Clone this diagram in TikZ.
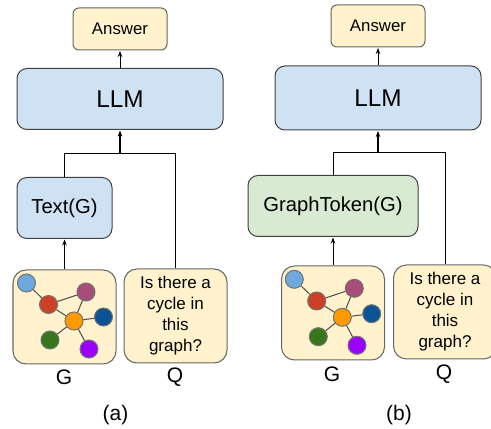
\documentclass[tikz,border=0pt]{standalone}
\usepackage{fontspec}
\setmainfont{Liberation Sans}
\usetikzlibrary{arrows.meta}
\definecolor{boxblue}{HTML}{CFE2F3}
\definecolor{boxyellow}{HTML}{FFF2CC}
\definecolor{boxgreen}{HTML}{D9EAD3}
\definecolor{gblue}{HTML}{6FA8DC}
\definecolor{gred}{HTML}{CC4125}
\definecolor{gmauve}{HTML}{A64D79}
\definecolor{gorange}{HTML}{FF9900}
\definecolor{gnavy}{HTML}{0B5394}
\definecolor{ggreen}{HTML}{38761D}
\definecolor{gviolet}{HTML}{9900FF}
\begin{document}
\begin{tikzpicture}
\tikzset{anbox/.style={shape=rectangle, rounded corners=0.6em, draw=black!60, line width=0.1em, fill=boxyellow, minimum width=9.4em, minimum height=4.2em, font=\fontsize{16.8pt}{20pt}\selectfont}}
\tikzset{llmbox/.style={shape=rectangle, rounded corners=1em, draw=black!75, line width=0.1em, fill=boxblue, minimum width=20.6em, font=\fontsize{24.3pt}{28pt}\selectfont}}
\tikzset{encbox/.style={shape=rectangle, rounded corners=1em, draw=black!75, line width=0.1em, minimum height=6.1em, font=\fontsize{20.2pt}{24pt}\selectfont}}
\tikzset{inbox/.style={shape=rectangle, rounded corners=1.3em, draw=black!60, line width=0.1em, fill=boxyellow, minimum width=10.3em, minimum height=9.4em, inner sep=0pt, align=center, font=\fontsize{17pt}{21pt}\selectfont}}
\tikzset{ltlabel/.style={inner sep=0pt, font=\fontsize{21pt}{25pt}\selectfont}}
\tikzset{gvert/.style={shape=circle, minimum size=1.8em, inner sep=0pt, draw=black!55, line width=0.1em}}
\tikzset{gedge/.style={draw=black!70, line width=0.1em}}
\tikzset{flow/.style={-{Stealth[length=0.6em, width=0.45em]}, line width=0.1em, shorten >=0.05em}}
\tikzset{tee/.style={line width=0.1em}}
\useasboundingbox (0em, 0em) rectangle (49.1em, 42.9em);
% left picture
\node (ans1) [anbox]                        at (12.0em, 40.0em) {Answer};
\node (llm1) [llmbox, minimum height=6.1em] at (12.0em, 33.0em) {LLM};
\node (txt1) [encbox, fill=boxblue, minimum width=9.5em] at (6.45em, 22.1em) {Text(G)};
\node (gbox1) [inbox]                       at (6.45em, 11.2em) {};
\node (qbox1) [inbox]                       at (17.55em, 11.3em) {Is there a\\cycle in\\this\\graph?};
\node (glab1) [ltlabel]                     at (6.4em, 5.2em) {G};
\node (qlab1) [ltlabel]                     at (17.5em, 5.2em) {Q};
\node (cap1) [ltlabel]                      at (11.55em, 1.35em) {(a)};
\coordinate (tee1) at (12.0em, 27.5em);
\draw[flow] (llm1) to (ans1);
\draw[flow, line width=0.16em] (tee1) to (llm1);
\draw[tee] (txt1) |- (tee1);
\draw[tee] (qbox1) |- (tee1);
\draw[flow] (gbox1) to (txt1);
% left graph
\node (a1) [gvert, fill=gblue]   at (2.65em, 14.6em) {};
\node (a2) [gvert, fill=gred]    at (4.85em, 12.45em) {};
\node (a3) [gvert, fill=gmauve]  at (8.6em, 13.7em) {};
\node (a4) [gvert, fill=gorange] at (7.4em, 10.8em) {};
\node (a5) [gvert, fill=gnavy]   at (10.35em, 11.2em) {};
\node (a6) [gvert, fill=ggreen]  at (5.0em, 8.9em) {};
\node (a7) [gvert, fill=gviolet] at (8.9em, 8.0em) {};
\draw[gedge] (a1) to (a2);
\draw[gedge] (a2) to (a3);
\draw[gedge] (a2) to (a4);
\draw[gedge] (a3) to (a4);
\draw[gedge] (a4) to (a5);
\draw[gedge] (a4) to (a6);
\draw[gedge] (a4) to (a7);
% right picture
\node (ans2) [anbox]                        at (37.8em, 40.3em) {Answer};
\node (llm2) [llmbox, minimum height=6.4em] at (37.8em, 33.1em) {LLM};
\node (tok2) [encbox, fill=boxgreen, minimum width=17.0em] at (33.3em, 22.3em) {GraphToken(G)};
\node (gbox2) [inbox]                       at (33.3em, 11.6em) {};
\node (qbox2) [inbox]                       at (44.5em, 11.7em) {Is there a\\cycle in\\this\\graph?};
\node (glab2) [ltlabel]                     at (33.2em, 5.5em) {G};
\node (qlab2) [ltlabel]                     at (44.4em, 5.5em) {Q};
\node (cap2) [ltlabel]                      at (39.9em, 1.35em) {(b)};
\coordinate (tee2) at (37.8em, 27.6em);
\draw[flow] (llm2) to (ans2);
\draw[flow, line width=0.16em] (tee2) to (llm2);
\draw[tee] (tok2) |- (tee2);
\draw[tee] (qbox2) |- (tee2);
\draw[flow] (gbox2) to (tok2);
% right graph
\node (b1) [gvert, fill=gblue]   at (29.43em, 14.97em) {};
\node (b2) [gvert, fill=gred]    at (31.67em, 12.8em) {};
\node (b3) [gvert, fill=gmauve]  at (35.43em, 14.07em) {};
\node (b4) [gvert, fill=gorange] at (34.23em, 11.17em) {};
\node (b5) [gvert, fill=gnavy]   at (37.17em, 11.53em) {};
\node (b6) [gvert, fill=ggreen]  at (31.83em, 9.23em) {};
\node (b7) [gvert, fill=gviolet] at (35.7em, 8.37em) {};
\draw[gedge] (b1) to (b2);
\draw[gedge] (b2) to (b3);
\draw[gedge] (b2) to (b4);
\draw[gedge] (b3) to (b4);
\draw[gedge] (b4) to (b5);
\draw[gedge] (b4) to (b6);
\draw[gedge] (b4) to (b7);
\end{tikzpicture}
\end{document}
